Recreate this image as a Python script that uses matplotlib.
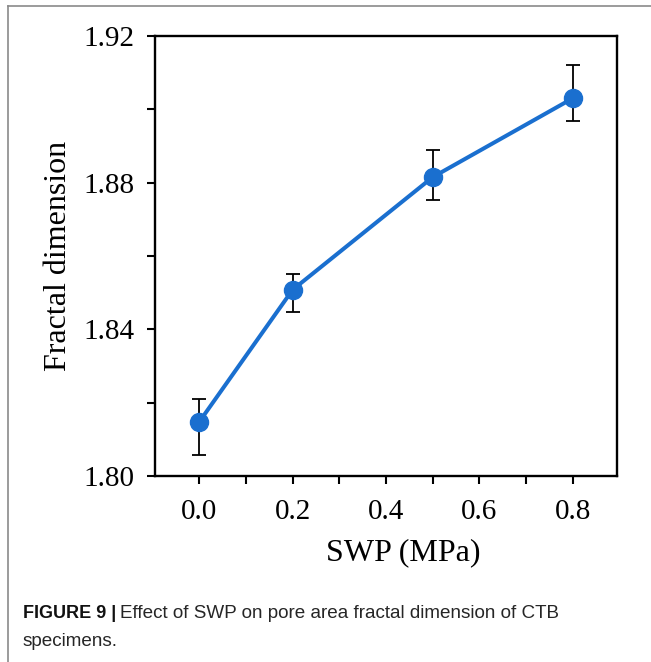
import matplotlib
matplotlib.use("Agg")
import matplotlib.pyplot as plt
from matplotlib.lines import Line2D
from matplotlib.ticker import MultipleLocator, FormatStrFormatter

# ---- data ----
swp = [0.0, 0.2, 0.5, 0.8]
fractal_dim = [1.8148, 1.8508, 1.8815, 1.9030]
err_lower = [0.0090, 0.0060, 0.0062, 0.0062]
err_upper = [0.0062, 0.0042, 0.0074, 0.0090]
x_label = "SWP (MPa)"
y_label = "Fractal dimension"
caption_bold = "FIGURE 9 |"
caption_line1 = "Effect of SWP on pore area fractal dimension of CTB"
caption_line2 = "specimens."

W, H = 651, 662
fig = plt.figure(figsize=(W / 100, H / 100), dpi=100)
fig.patch.set_facecolor("white")

ax = fig.add_axes([155 / W, (H - 476) / H, 462 / W, 440 / H])

blue = "#1a6fcf"
ax.errorbar(swp, fractal_dim, yerr=[err_lower, err_upper], fmt="none",
            ecolor="black", elinewidth=1.3, capsize=5, capthick=1.3, zorder=2)
ax.plot(swp, fractal_dim, "-o", color=blue, lw=2.9, ms=13, zorder=3)

ax.set_xlim(-0.095, 0.895)
ax.set_ylim(1.80, 1.92)
ax.xaxis.set_major_locator(MultipleLocator(0.2))
ax.xaxis.set_minor_locator(MultipleLocator(0.1))
ax.yaxis.set_major_locator(MultipleLocator(0.04))
ax.yaxis.set_minor_locator(MultipleLocator(0.02))
ax.xaxis.set_major_formatter(FormatStrFormatter("%.1f"))
ax.yaxis.set_major_formatter(FormatStrFormatter("%.2f"))

serif = ["Liberation Serif", "DejaVu Serif"]
ax.tick_params(axis="both", which="both", direction="out", length=5.8, width=1.5,
               top=False, right=False, colors="black")
ax.tick_params(axis="x", which="major", pad=11)
ax.tick_params(axis="y", which="major", pad=9)
for lab in ax.get_xticklabels() + ax.get_yticklabels():
    lab.set_fontfamily(serif)
    lab.set_fontsize(21)
for s in ax.spines.values():
    s.set_linewidth(1.7)
    s.set_color("black")

ax.set_xlabel(x_label, fontsize=23, family=serif)
ax.set_ylabel(y_label, fontsize=23, family=serif)
ax.xaxis.set_label_coords((403 - 155) / 462, (476 - 553) / 440)
ax.xaxis.label.set_va("center")
ax.yaxis.set_label_coords((58 - 155) / 462, 0.5)
ax.yaxis.label.set_va("center")

# outer frame (top and left)
fig.add_artist(Line2D([8 / W, 1.0], [1 - 6 / H, 1 - 6 / H], color="#8a8a8a", lw=1.2,
                      transform=fig.transFigure))
fig.add_artist(Line2D([8 / W, 8 / W], [0.0, 1 - 6 / H], color="#8a8a8a", lw=1.2,
                      transform=fig.transFigure))

# caption
sans = ["Liberation Sans", "DejaVu Sans"]
y1 = 1 - 613 / H
y2 = 1 - 641 / H
tb = fig.text(23 / W, y1, caption_bold, fontsize=13, fontweight="bold",
              family=sans, color="#111111", va="center")
fig.canvas.draw()
bb = tb.get_window_extent()
fig.text((bb.x1 + 4) / W, y1, caption_line1, fontsize=13.6, family=sans,
         color="#262626", va="center")
fig.text(23 / W, y2, caption_line2, fontsize=13.6, family=sans,
         color="#262626", va="center")

fig.savefig("out.png", dpi=100)
